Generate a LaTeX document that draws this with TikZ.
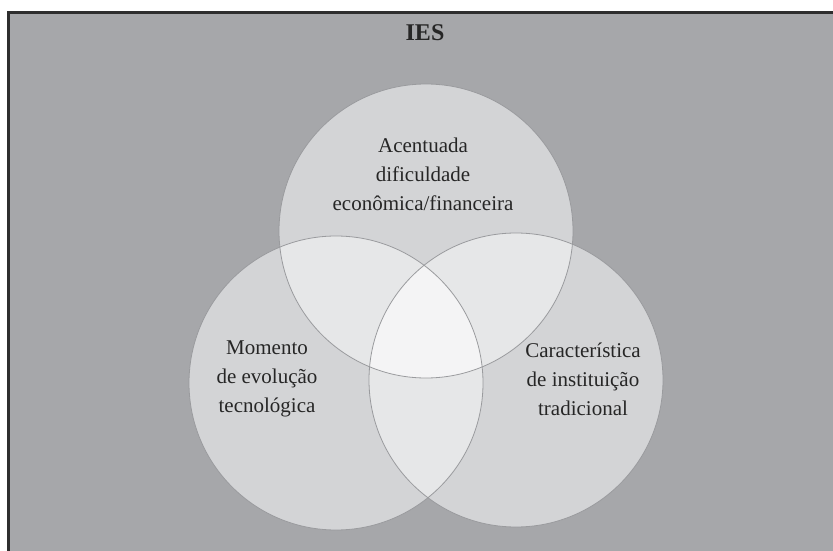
\documentclass[tikz,border=0pt]{standalone}
\usepackage{fontspec}
\setmainfont{Liberation Serif}
\definecolor{bgframe}{HTML}{A6A7AA}
\definecolor{frameline}{HTML}{2E2E2E}
\definecolor{single}{HTML}{D3D4D6}
\definecolor{pair}{HTML}{E6E7E8}
\definecolor{triple}{HTML}{F4F4F5}
\definecolor{ring}{HTML}{9A9B9E}
\definecolor{txt}{HTML}{262626}
\tikzset{
  lbl/.style={align=center, text=txt, font=\fontsize{21}{29}\selectfont, inner sep=0pt},
  ttl/.style={text=txt, font=\fontsize{24}{28}\selectfont\bfseries, inner sep=0pt},
  ringline/.style={draw=ring, line width=0.8pt}
}
\begin{document}
\begin{tikzpicture}[x=1pt,y=1pt]
\useasboundingbox (0,0) rectangle (833,550);
\clip (0,0) rectangle (833,550);
\fill[white] (0,0) rectangle (833,550);
% frame
\draw[line width=3.5pt, draw=frameline, fill=bgframe] (8.5,-20) rectangle (860,537.7);
% circle centres
\coordinate (ct) at (426,319);
\coordinate (cl) at (336,167);
\coordinate (cr) at (516,170);
\def\R{147}
% single fills
\fill[single] (ct) circle (\R);
\fill[single] (cl) circle (\R);
\fill[single] (cr) circle (\R);
% pairwise
\begin{scope}\clip (ct) circle (\R); \fill[pair] (cl) circle (\R); \end{scope}
\begin{scope}\clip (ct) circle (\R); \fill[pair] (cr) circle (\R); \end{scope}
\begin{scope}\clip (cl) circle (\R); \fill[pair] (cr) circle (\R); \end{scope}
% triple
\begin{scope}\clip (ct) circle (\R); \clip (cl) circle (\R); \fill[triple] (cr) circle (\R); \end{scope}
% outlines
\draw[ringline] (ct) circle (\R);
\draw[ringline] (cl) circle (\R);
\draw[ringline] (cr) circle (\R);
% texts
\node[ttl] (ies) at (425,517) {IES};
\node[lbl] (top) at (423,376) {Acentuada\\dificuldade\\econômica/financeira};
\node[lbl] (left) at (267,171) {Momento\\de evolução\\tecnológica};
\node[lbl] (right) at (583,171) {Característica\\de instituição\\tradicional};
\end{tikzpicture}
\end{document}
